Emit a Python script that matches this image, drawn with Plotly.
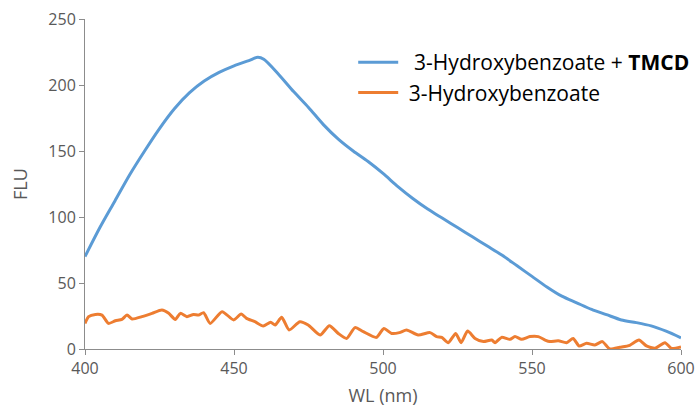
import plotly.graph_objects as go

# Blue series: 3-Hydroxybenzoate + TMCD
wl_tmcd = [400, 405, 410, 415, 420, 425, 430, 435, 440, 445, 450, 455, 458, 460, 465, 470,
           475, 480, 485, 490, 495, 500, 505, 510, 515, 520, 525, 530, 535, 540, 545, 550,
           555, 560, 565, 570, 575, 580, 585, 590, 595, 600]
flu_tmcd = [70, 92, 112, 132, 150, 167, 182, 194, 203, 209.5, 214.5, 218.5, 221, 219.5, 208, 195,
            183, 170, 159, 150, 142, 133, 123, 114, 106, 99, 92, 85, 78, 71, 63, 55,
            47, 40, 35, 30, 26, 22, 20, 17.5, 13.5, 8.5]

# Orange series: 3-Hydroxybenzoate
wl_hb = [400, 401.2, 403.5, 405.7, 407.9, 410.2, 412.4, 414.1, 415.8, 419.1, 422.5, 425.8,
         428.1, 430.3, 432, 434.2, 436.4, 438.1, 439.8, 442, 446, 449.9, 452.4, 454.2, 457,
         459.8, 462.3, 463.8, 466, 468.5, 472.1, 474.9, 478.9, 482, 485, 487.8, 490.6, 493.4,
         497.8, 500.3, 502.9, 505.5, 507.9, 511.8, 515.8, 518, 519.7, 521.9, 524.4, 526.2,
         528.4, 530.9, 533.7, 536.5, 537.6, 539.8, 542.6, 544.3, 546.5, 549.3, 552.1, 554.4,
         556, 558.8, 561.6, 563.8, 565.8, 568.3, 571.1, 573.6, 576.1, 579.5, 582.8, 585.9,
         588.4, 591.3, 594.6, 596.8, 600]
flu_hb = [19.4, 24.5, 26.2, 25.7, 19.4, 21.4, 22.4, 25.8, 22.7, 24.5, 27, 29.5,
          27, 22.4, 27, 24.5, 26.2, 25.7, 27.5, 19.4, 28.3, 22, 26.5, 23.2, 20.7,
          17.4, 20.2, 18.2, 24, 14.4, 20.7, 18.2, 10.6, 17.7, 11.8, 8, 16.2, 13.1,
          8.8, 15.6, 11.8, 12.4, 14.4, 10.6, 12.4, 9.4, 8.8, 4.8, 11.8, 4.8,
          13.6, 8, 5.6, 6.8, 4.8, 8.8, 7.3, 9.4, 7.3, 9.4, 9.4, 6.8,
          5.6, 6.3, 4.8, 8, 2.3, 4.3, 3, 5.6, 0, 1.3, 2.8, 6.8,
          2.3, 0.5, 4.8, 0.5, 1.6]

x_ticks = [400, 450, 500, 550, 600]
y_ticks = [0, 50, 100, 150, 200, 250]

FONT = "Open Sans"
TXT = "#595959"
AX = "#8c8c8c"

fig = go.Figure()
fig.add_trace(go.Scatter(
    x=wl_tmcd, y=flu_tmcd, mode="lines",
    name="&nbsp;&nbsp;3-Hydroxybenzoate + <b>TMCD</b>",
    line=dict(color="#5B9BD5", width=3, shape="spline", smoothing=0.8),
))
fig.add_trace(go.Scatter(
    x=wl_hb, y=flu_hb, mode="lines",
    name="&nbsp;3-Hydroxybenzoate",
    line=dict(color="#ED7D31", width=3, shape="spline", smoothing=0.6),
))

fig.update_layout(
    width=699, height=412,
    margin=dict(l=85, r=18, t=19, b=63, autoexpand=False),
    paper_bgcolor="white", plot_bgcolor="white",
    font=dict(family=FONT, color=TXT, size=16),
    showlegend=True,
    legend=dict(
        x=0.45, y=0.93, xanchor="left", yanchor="top",
        bgcolor="rgba(0,0,0,0)",
        font=dict(family=FONT, size=21, color="#000000"),
        itemwidth=40, tracegroupgap=11,
    ),
    xaxis=dict(
        range=[400, 600], tickvals=x_ticks, ticktext=[str(v) for v in x_ticks],
        showgrid=False, zeroline=False, showline=True, linecolor=AX, linewidth=1,
        ticks="outside", ticklen=5, tickcolor=AX,
        tickfont=dict(family=FONT, size=16, color=TXT),
        title=dict(text="WL (nm)", font=dict(family=FONT, size=18, color=TXT), standoff=11),
    ),
    yaxis=dict(
        range=[0, 250], tickvals=y_ticks, ticktext=[str(v) for v in y_ticks],
        showgrid=False, zeroline=False, showline=True, linecolor=AX, linewidth=1,
        ticks="outside", ticklen=5, tickcolor=AX,
        tickfont=dict(family=FONT, size=16, color=TXT),
        title=dict(text="FLU", font=dict(family=FONT, size=18, color=TXT), standoff=16),
    ),
)

fig.write_html("out.html")
